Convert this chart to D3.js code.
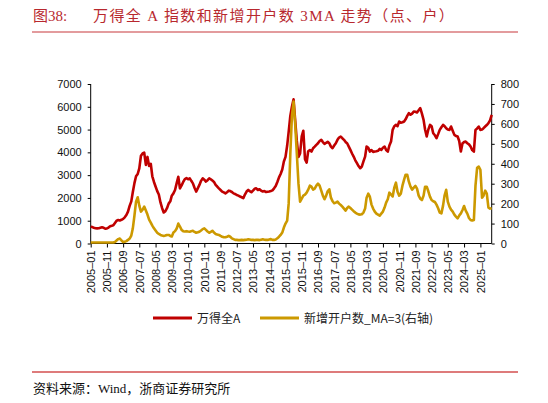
<!DOCTYPE html>
<html><head><meta charset="utf-8">
<script src="https://cdn.jsdelivr.net/npm/d3@7"></script>
<style>body{margin:0;background:#fff}svg{display:block}</style>
</head><body><svg id="c" width="548" height="403"></svg>
<script>
// ---------- data ----------
const firstMonth = "2005-01";
const lastMonth  = "2025-08";
const tickLabels = ["2005-01","2005-11","2006-09","2007-07","2008-05","2009-03","2010-01","2010-11","2011-09","2012-07","2013-05","2014-03","2015-01","2015-11","2016-09","2017-07","2018-05","2019-03","2020-01","2020-11","2021-09","2022-07","2023-05","2024-03","2025-01"];
const leftTicks  = [0,1000,2000,3000,4000,5000,6000,7000];
const rightTicks = [0,100,200,300,400,500,600,700,800];
const seriesNames = ["万得全A","新增开户数_MA=3(右轴)"];
// 万得全A (left axis), monthly 2005-01 .. 2025-08
const windA = [
 740,720,690,670,665,670,690,710,690,650,660,700,
 760,780,800,900,1000,1030,1010,1040,1080,1150,1250,1400,
 1650,1850,2250,2650,2950,3050,3300,3850,3950,3990,3450,3800,
 3400,3500,2950,2700,2500,2300,2150,1800,1550,1360,1420,1550,
 1750,1850,2100,2200,2350,2650,2930,2420,2550,2700,2830,2870,
 2820,2860,2750,2640,2450,2280,2420,2570,2750,2860,2800,2720,
 2780,2860,2820,2760,2700,2570,2500,2420,2350,2280,2240,2200,
 2250,2320,2300,2260,2200,2170,2130,2100,2060,2030,1990,2150,
 2280,2350,2300,2250,2320,2400,2420,2350,2380,2320,2280,2300,
 2260,2270,2280,2300,2330,2420,2520,2700,2900,3050,3250,3600,
 3800,4300,4900,5600,6000,6330,5400,4500,3800,3950,4700,4950,
 3700,3550,4050,4100,4035,4180,4250,4330,4400,4500,4548,4450,
 4370,4420,4460,4400,4250,4182,4300,4400,4550,4650,4694,4621,
 4550,4450,4401,4250,4108,3950,3814,3650,3524,3400,3303,3376,
 3600,3814,4255,4200,4035,4100,4020,4035,4050,4070,4150,4108,
 4200,4255,4100,4035,4300,4474,4987,5150,5207,5150,5353,5300,
 5320,5353,5450,5600,5719,5650,5700,5792,5780,5750,5850,5940,
 5700,5427,5000,4694,5000,5207,5150,4840,4750,4621,4800,4987,
 5100,5207,5150,5060,5000,4987,5133,4950,4768,4720,4694,4500,
 4035,4401,4450,4474,4400,4350,4255,4100,4035,4987,5050,5133,
 4987,5000,5060,5133,5200,5280,5400,5646
];
// 新增开户数 3MA (right axis)
const newAcc = [
 5,5,5,5,5,5,5,5,5,5,5,5,
 5,5,5,8,15,22,25,15,8,9,12,18,
 25,40,75,140,210,232,190,160,170,185,165,145,
 120,105,90,76,65,54,48,43,40,38,40,43,
 43,38,35,55,62,75,100,85,68,62,60,62,
 60,59,62,64,58,54,56,59,65,72,76,68,
 60,54,58,64,55,48,45,43,38,34,32,31,
 34,38,34,26,22,18,18,17,17,18,17,18,
 19,21,20,18,18,17,18,18,17,19,21,19,
 18,18,20,22,18,18,20,26,34,43,55,80,
 100,115,200,450,640,712,600,450,300,210,225,240,
 245,255,270,290,285,270,275,290,300,290,265,240,
 222,240,262,272,230,212,202,205,210,200,193,185,
 175,165,178,185,178,170,162,155,150,146,145,147,
 155,175,230,250,235,195,175,160,150,145,140,150,
 160,180,205,222,255,245,236,280,305,260,240,250,
 290,320,345,345,310,285,270,280,289,275,240,225,
 218,240,285,285,262,235,218,212,208,195,177,155,
 151,190,240,269,210,185,170,160,145,135,126,140,
 151,168,188,165,150,128,118,115,118,290,380,386,
 370,230,240,265,250,180,175,177
];

// ---------- chart ----------
const parse = d3.timeParse("%Y-%m");
const months = d3.timeMonth.range(parse(firstMonth), d3.timeMonth.offset(parse(lastMonth),1));
const svg = d3.select("#c");
const X0 = 90.7, X1 = 491.7, Y0 = 243.5, Y1 = 84;
const x = d3.scaleTime().domain([parse(firstMonth), parse(lastMonth)]).range([X0, X1]);
const yL = d3.scaleLinear().domain([0,7000]).range([Y0, Y1]);
const yR = d3.scaleLinear().domain([0,800]).range([Y0, Y1]);
const RED = "#c00000", GOLD = "#cc9900";
const tickFont = "'Liberation Sans', Arial, sans-serif";

// title
svg.append("text").attr("x",33).attr("y",21)
  .attr("font-family","'Liberation Serif','Noto Sans CJK SC',serif").attr("font-size",15)
  .attr("fill","#b8282e").text("图38:");
svg.append("text").attr("x",93).attr("y",21)
  .attr("font-family","'Liberation Serif','Noto Sans CJK SC',serif").attr("font-size",15)
  .attr("letter-spacing",1.4)
  .attr("fill","#b8282e").text("万得全 A 指数和新增开户数 3MA 走势（点、户）");
svg.append("line").attr("x1",32).attr("x2",518).attr("y1",32).attr("y2",32)
  .attr("stroke","#c8383c").attr("stroke-width",1.2);

// axes
const gL = svg.append("g").attr("transform",`translate(${X0},0)`)
  .call(d3.axisLeft(yL).tickValues(leftTicks).tickSize(3).tickPadding(6).tickFormat(d3.format("d")));
const gR = svg.append("g").attr("transform",`translate(${X1},0)`)
  .call(d3.axisRight(yR).tickValues(rightTicks).tickSize(3).tickPadding(6).tickFormat(d3.format("d")));
const gB = svg.append("g").attr("transform",`translate(0,${Y0})`)
  .call(d3.axisBottom(x).tickValues(tickLabels.map(parse)).tickSize(4).tickFormat(d3.timeFormat("%Y-%m")));
[gL,gR,gB].forEach(g=>{
  g.select(".domain").attr("stroke","#000");
  g.selectAll(".tick line").attr("stroke","#000");
  g.selectAll("text").attr("font-family",tickFont).attr("font-size",11).attr("fill","#111");
});
gL.select(".domain").attr("d",`M-0,${Y0}V${Y1}`);
gR.select(".domain").attr("d",`M0,${Y0}V${Y1}`);
gB.select(".domain").attr("d",`M${X0},0H${X1}`);
gB.selectAll("text").attr("transform","rotate(-90)").attr("text-anchor","end")
  .attr("x",-7).attr("y",0).attr("dy","0.35em").text(d=>d3.timeFormat("%Y-%m")(d).replace("-","–"));

// lines
const lineL = d3.line().x((d,i)=>x(months[i])).y(d=>yL(d)).curve(d3.curveLinear);
const lineR = d3.line().x((d,i)=>x(months[i])).y(d=>yR(d)).curve(d3.curveLinear);
svg.append("path").datum(windA).attr("d",lineL).attr("fill","none")
  .attr("stroke",RED).attr("stroke-width",2.6).attr("stroke-linejoin","round");
svg.append("path").datum(newAcc).attr("d",lineR).attr("fill","none")
  .attr("stroke",GOLD).attr("stroke-width",2.6).attr("stroke-linejoin","round");

// legend
const legend = [{name:seriesNames[0],c:RED,x:153},{name:seriesNames[1],c:GOLD,x:260}];
const lg = svg.append("g");
legend.forEach(l=>{
  lg.append("line").attr("x1",l.x).attr("x2",l.x+39).attr("y1",318).attr("y2",318)
    .attr("stroke",l.c).attr("stroke-width",3);
  lg.append("text").attr("x",l.x+44).attr("y",322.5).attr("font-size",12)
    .attr("font-family","'Noto Sans CJK SC',sans-serif").attr("fill","#222").text(l.name);
});

// source
svg.append("line").attr("x1",32).attr("x2",518).attr("y1",372).attr("y2",372)
  .attr("stroke","#de7b7b").attr("stroke-width",2);
svg.append("text").attr("x",33).attr("y",393).attr("font-size",13)
  .attr("font-family","'Liberation Serif','Noto Sans CJK SC',serif").attr("fill","#111")
  .text("资料来源：Wind，浙商证券研究所");
</script></body></html>
